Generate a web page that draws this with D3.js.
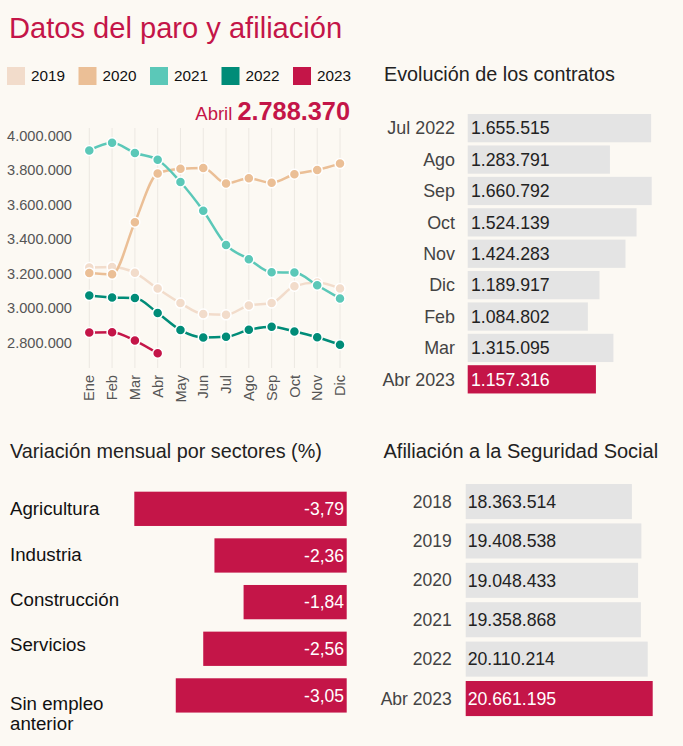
<!DOCTYPE html>
<html>
<head>
<meta charset="utf-8">
<script src="https://cdn.jsdelivr.net/npm/d3@7"></script>
<style>
  body { margin: 0; background: #fcf9f3; }
  svg { display: block; font-family: "Liberation Sans", Arial, sans-serif; }
</style>
</head>
<body>
<div id="chart"></div>
<script>
// add data
var months = ["Ene", "Feb", "Mar", "Abr", "May", "Jun", "Jul", "Ago", "Sep", "Oct", "Nov", "Dic"];
var years = ["2019", "2020", "2021", "2022", "2023"];
var paro2019 = [3285761, 3289040, 3255084, 3163566, 3079491, 3015686, 3011433, 3065804, 3079711, 3177659, 3198184, 3163605];
var paro2020 = [3253853, 3246047, 3548312, 3831203, 3857776, 3862883, 3773034, 3802814, 3776485, 3826043, 3851312, 3888137];
var paro2021 = [3964353, 4008789, 3949640, 3910628, 3781250, 3614339, 3416498, 3333915, 3257802, 3257068, 3182687, 3105905];
var paro2022 = [3123078, 3111684, 3108763, 3022503, 2922991, 2880582, 2883812, 2924240, 2941919, 2914892, 2881380, 2837653];
var paro2023 = [2908397, 2911015, 2862260, 2788370];
var yTicks = [2800000, 3000000, 3200000, 3400000, 3600000, 3800000, 4000000];

var contratosLabels = ["Jul 2022", "Ago", "Sep", "Oct", "Nov", "Dic", "Feb", "Mar", "Abr 2023"];
var contratosValues = [1655515, 1283791, 1660792, 1524139, 1424283, 1189917, 1084802, 1315095, 1157316];

var sectores = ["Agricultura", "Industria", "Construcción", "Servicios", "Sin empleo anterior"];
var sectoresValues = [-3.79, -2.36, -1.84, -2.56, -3.05];

var afiliacionLabels = ["2018", "2019", "2020", "2021", "2022", "Abr 2023"];
var afiliacionValues = [18363514, 19408538, 19048433, 19358868, 20110214, 20661195];

var colors = ["#f2dccb", "#ebbf96", "#5bc8b8", "#008c78", "#c41548"];
var red = "#c41548";
var grey = "#e4e4e4";

var es = d3.formatLocale({decimal: ",", thousands: ".", grouping: [3], currency: ["", " €"], minus: "-"});
var fmtInt = es.format(",d");
var fmtPct = es.format(".2f");

// svg
var svg = d3.select("#chart")
  .append("svg")
    .attr("width", 683)
    .attr("height", 746);

svg.append("rect").attr("width", 683).attr("height", 746).attr("fill", "#fcf9f3");

// title
svg.append("text")
  .attr("x", 9).attr("y", 38)
  .attr("font-size", 29.1).attr("fill", red)
  .text("Datos del paro y afiliación");

// legend
var legend = svg.append("g").selectAll("g")
  .data(years)
  .enter().append("g")
    .attr("transform", function(d, i) { return "translate(" + (7 + i * 71.5) + ",67)"; });
legend.append("rect").attr("width", 18).attr("height", 18)
  .attr("fill", function(d, i) { return colors[i]; });
legend.append("text")
  .attr("x", 24).attr("y", 9).attr("dy", "0.35em")
  .attr("font-size", 15.3).attr("fill", "#111")
  .text(function(d) { return d; });

// last value
var last = svg.append("text")
  .attr("x", 350).attr("y", 120)
  .attr("text-anchor", "end").attr("fill", red);
last.append("tspan").attr("font-size", 18.5).text("Abril ");
last.append("tspan").attr("font-size", 25.3).attr("font-weight", "bold")
  .text(fmtInt(paro2023[paro2023.length - 1]));

// line chart scales
var x = d3.scalePoint().domain(months).range([89.3, 340]);
var y = d3.scaleLinear().domain([2800000, 4000000]).range([351.3, 144.3]);

// grid
svg.append("g").selectAll("line")
  .data(months)
  .enter().append("line")
    .attr("x1", function(d) { return x(d); })
    .attr("x2", function(d) { return x(d); })
    .attr("y1", 128).attr("y2", 368)
    .attr("stroke", "#ece8e2").attr("stroke-width", 1);

// y labels
svg.append("g").selectAll("text")
  .data(yTicks)
  .enter().append("text")
    .attr("x", 72)
    .attr("y", function(d) { return y(d) - 8.8; })
    .attr("dy", "0.35em")
    .attr("text-anchor", "end")
    .attr("font-size", 14.6).attr("fill", "#555")
    .text(function(d) { return fmtInt(d); });

// x labels
svg.append("g").selectAll("text")
  .data(months)
  .enter().append("text")
    .attr("transform", function(d) { return "translate(" + x(d) + ",375) rotate(-90)"; })
    .attr("dy", "0.35em")
    .attr("text-anchor", "end")
    .attr("font-size", 14.6).attr("fill", "#555")
    .text(function(d) { return d; });

// lines
var series = [paro2019, paro2020, paro2021, paro2022, paro2023];
var line = d3.line()
  .x(function(d, i) { return x(months[i]); })
  .y(function(d) { return y(d); })
  .curve(d3.curveMonotoneX);

series.forEach(function(s, k) {
  var g = svg.append("g");
  g.append("path")
    .attr("d", line(s))
    .attr("fill", "none")
    .attr("stroke", colors[k])
    .attr("stroke-width", 2.5);
  g.selectAll("circle")
    .data(s)
    .enter().append("circle")
      .attr("cx", function(d, i) { return x(months[i]); })
      .attr("cy", function(d) { return y(d); })
      .attr("r", 5)
      .attr("fill", colors[k])
      .attr("stroke", "#fff")
      .attr("stroke-width", 1.5);
});

// contratos
svg.append("text")
  .attr("x", 384).attr("y", 81)
  .attr("font-size", 19.8).attr("fill", "#222")
  .text("Evolución de los contratos");

var yc = d3.scaleBand().domain(contratosLabels).range([110.9, 396.6]).padding(0.1);
var xc = d3.scaleLinear().domain([0, 1660792]).range([467.7, 651.7]);

var gc = svg.append("g");
gc.selectAll("rect")
  .data(contratosValues)
  .enter().append("rect")
    .attr("x", xc(0))
    .attr("y", function(d, i) { return yc(contratosLabels[i]); })
    .attr("width", function(d) { return xc(d) - xc(0); })
    .attr("height", yc.bandwidth())
    .attr("fill", function(d, i) { return i == contratosValues.length - 1 ? red : grey; });
gc.selectAll("text.val")
  .data(contratosValues)
  .enter().append("text")
    .attr("class", "val")
    .attr("x", 471)
    .attr("y", function(d, i) { return yc(contratosLabels[i]) + yc.bandwidth() / 2; })
    .attr("dy", "0.35em")
    .attr("font-size", 17.7)
    .attr("fill", function(d, i) { return i == contratosValues.length - 1 ? "#fff" : "#222"; })
    .text(function(d) { return fmtInt(d); });
gc.selectAll("text.lab")
  .data(contratosLabels)
  .enter().append("text")
    .attr("class", "lab")
    .attr("x", 455)
    .attr("y", function(d) { return yc(d) + yc.bandwidth() / 2; })
    .attr("dy", "0.35em")
    .attr("text-anchor", "end")
    .attr("font-size", 17.9).attr("fill", "#444")
    .text(function(d) { return d; });

// sectores
svg.append("text")
  .attr("x", 10).attr("y", 458)
  .attr("font-size", 19.8).attr("fill", "#222")
  .text("Variación mensual por sectores (%)");

var ys = d3.scaleBand().domain(sectores).range([485.5, 718.75]).paddingInner(0.265).paddingOuter(0.1325);
var xs = d3.scaleLinear().domain([0, -3.79]).range([346.7, 134.3]);

var gs = svg.append("g");
gs.selectAll("rect")
  .data(sectoresValues)
  .enter().append("rect")
    .attr("x", function(d) { return xs(d); })
    .attr("y", function(d, i) { return ys(sectores[i]); })
    .attr("width", function(d) { return xs(0) - xs(d); })
    .attr("height", ys.bandwidth())
    .attr("fill", red);
gs.selectAll("text.val")
  .data(sectoresValues)
  .enter().append("text")
    .attr("class", "val")
    .attr("x", 344)
    .attr("y", function(d, i) { return ys(sectores[i]) + ys.bandwidth() / 2; })
    .attr("dy", "0.35em")
    .attr("text-anchor", "end")
    .attr("font-size", 17.5).attr("fill", "#fff")
    .text(function(d) { return fmtPct(d); });
gs.selectAll("text.lab")
  .data(sectores)
  .enter().append("text")
    .attr("class", "lab")
    .attr("x", 10)
    .attr("y", function(d, i) { return ys(d) + ys.bandwidth() / 2 - i * 1.5; })
    .attr("dy", "0.35em")
    .attr("font-size", 18.7).attr("fill", "#111")
    .each(function(d) {
      var words = d === "Sin empleo anterior" ? ["Sin empleo", "anterior"] : [d];
      var t = d3.select(this);
      if (words.length > 1) {
        t.attr("dy", null).attr("y", +t.attr("y") + 14);
        words.forEach(function(w, j) {
          t.append("tspan").attr("x", 10).attr("dy", j ? "1.08em" : "0.35em").text(w);
        });
      } else {
        t.text(d);
      }
    });

// afiliacion
svg.append("text")
  .attr("x", 383.5).attr("y", 458)
  .attr("font-size", 20).attr("fill", "#222")
  .text("Afiliación a la Seguridad Social");

var ya = d3.scaleBand().domain(afiliacionLabels).range([479.7, 720.4]).padding(0.11);
var xa = d3.scaleLinear().domain([0, 20661195]).range([465.7, 652.7]);

var ga = svg.append("g");
ga.selectAll("rect")
  .data(afiliacionValues)
  .enter().append("rect")
    .attr("x", xa(0))
    .attr("y", function(d, i) { return ya(afiliacionLabels[i]); })
    .attr("width", function(d) { return xa(d) - xa(0); })
    .attr("height", ya.bandwidth())
    .attr("fill", function(d, i) { return i == afiliacionValues.length - 1 ? red : grey; });
ga.selectAll("text.val")
  .data(afiliacionValues)
  .enter().append("text")
    .attr("class", "val")
    .attr("x", 467.7)
    .attr("y", function(d, i) { return ya(afiliacionLabels[i]) + ya.bandwidth() / 2; })
    .attr("dy", "0.35em")
    .attr("font-size", 17.7)
    .attr("fill", function(d, i) { return i == afiliacionValues.length - 1 ? "#fff" : "#222"; })
    .text(function(d) { return fmtInt(d); });
ga.selectAll("text.lab")
  .data(afiliacionLabels)
  .enter().append("text")
    .attr("class", "lab")
    .attr("x", 451.7)
    .attr("y", function(d) { return ya(d) + ya.bandwidth() / 2; })
    .attr("dy", "0.35em")
    .attr("text-anchor", "end")
    .attr("font-size", 17.5).attr("fill", "#444")
    .text(function(d) { return d; });
</script>
</body>
</html>
